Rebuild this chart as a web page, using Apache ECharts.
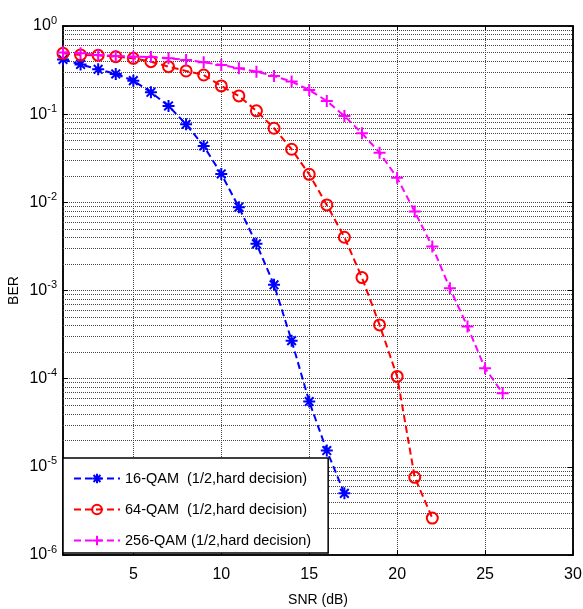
<!DOCTYPE html>
<html>
<head>
<meta charset="utf-8">
<script src="https://cdn.jsdelivr.net/npm/echarts@6/dist/echarts.min.js"></script>
<style>
  html, body { margin: 0; padding: 0; background: #fff; }
  #main { width: 583px; height: 609px; }
</style>
</head>
<body>
<div id="main"></div>
<script>
// values
const snr16 = [1, 2, 3, 4, 5, 6, 7, 8, 9, 10, 11, 12, 13, 14, 15, 16, 17]
const ber16 = [0.417, 0.366, 0.323, 0.286, 0.240, 0.177, 0.124, 0.0768, 0.0436, 0.0210, 0.0088,
    0.00338, 0.00116, 2.7e-4, 5.5e-5, 1.53e-5, 5.0e-6]

const snr64 = [1, 2, 3, 4, 5, 6, 7, 8, 9, 10, 11, 12, 13, 14, 15, 16, 17, 18, 19, 20, 21, 22]
const ber64 = [0.49, 0.47, 0.465, 0.449, 0.430, 0.394, 0.346, 0.309, 0.278, 0.209, 0.161,
    0.109, 0.0692, 0.040, 0.0208, 0.00935, 0.00402, 0.0014, 4.07e-4, 1.06e-4, 7.6e-6, 2.62e-6]

const snr256 = [1, 2, 3, 4, 5, 6, 7, 8, 9, 10, 11, 12, 13, 14, 15, 16, 17, 18, 19, 20, 21, 22, 23, 24, 25, 26]
const ber256 = [0.50, 0.49, 0.47, 0.457, 0.449, 0.445, 0.430, 0.412, 0.388, 0.361, 0.332,
    0.303, 0.271, 0.234, 0.188, 0.141, 0.0954, 0.0607, 0.0366, 0.019, 0.00785,
    0.00315, 0.00106, 3.9e-4, 1.31e-4, 6.85e-5]

const xTicks = [5, 10, 15, 20, 25, 30]
const yTicks = [1e-6, 1e-5, 1e-4, 1e-3, 1e-2, 1e-1, 1]
const seriesNames = ['16-QAM  (1/2,hard decision)', '64-QAM  (1/2,hard decision)', '256-QAM (1/2,hard decision)']

// minor log grid lines 2..9 x 10^d
const minorGrid = []
for (let d = -6; d < 0; d++) {
    for (let k = 2; k <= 9; k++) minorGrid.push({ yAxis: k * Math.pow(10, d) })
}

const FONT = '"Liberation Sans", Arial, sans-serif'
const GRID_LINE = { color: '#444', type: 'dotted', width: 1 }
const STAR = 'path://M5 0L5 10M0 5L10 5M1.4 1.4L8.6 8.6M8.6 1.4L1.4 8.6'
const PLUS = 'path://M5 0L5 10M0 5L10 5'

function pairs(xs, ys) {
    return xs.map((x, i) => [x, ys[i]])
}

const chart = echarts.init(document.getElementById('main'))

const tickOnly = { inside: true, length: 5, lineStyle: { color: '#000' } }

const option = {
    animation: false,
    backgroundColor: '#fff',
    textStyle: { fontFamily: FONT },
    grid: {
        left: 63, top: 26, right: 10, bottom: 54,
        outerBoundsMode: 'none',
        containLabel: false,
        show: true, borderColor: '#000', borderWidth: 1.5
    },
    legend: {
        orient: 'vertical',
        left: 63, top: 458,
        padding: [13, 17, 5, 10],
        itemGap: 16,
        itemWidth: 46,
        itemHeight: 12,
        backgroundColor: '#fff',
        borderColor: '#000',
        borderWidth: 1.5,
        borderRadius: 0,
        textStyle: { fontSize: 14.5, color: '#000', fontFamily: FONT },
        data: seriesNames
    },
    xAxis: [{
        type: 'value',
        min: 1, max: 30,
        name: 'SNR (dB)',
        nameLocation: 'middle',
        nameGap: 38,
        nameMoveOverlap: false,
        nameTextStyle: { fontSize: 14, color: '#000', fontFamily: FONT },
        axisLine: { lineStyle: { color: '#000', width: 1.5 } },
        axisTick: Object.assign({ customValues: xTicks }, tickOnly),
        axisLabel: { customValues: xTicks, fontSize: 16, color: '#000', margin: 12, fontFamily: FONT },
        splitLine: { show: true, lineStyle: GRID_LINE }
    }, {
        type: 'value',
        position: 'top',
        min: 1, max: 30,
        axisLine: { lineStyle: { color: '#000', width: 1.5 } },
        axisTick: Object.assign({ customValues: xTicks }, tickOnly),
        axisLabel: { show: false },
        splitLine: { show: false }
    }],
    yAxis: [{
        type: 'log',
        logBase: 10,
        min: 1e-6, max: 1,
        name: 'BER',
        nameLocation: 'middle',
        nameGap: 42,
        nameMoveOverlap: false,
        nameTextStyle: { fontSize: 14, color: '#000', fontFamily: FONT },
        axisLine: { lineStyle: { color: '#000', width: 1.5 } },
        axisTick: Object.assign({ customValues: yTicks }, tickOnly),
        axisLabel: {
            customValues: yTicks,
            margin: 6,
            formatter: function (v) {
                return '{b|10}{s|' + Math.round(Math.log10(v)) + '}'
            },
            rich: {
                b: { fontSize: 16, color: '#000', fontFamily: FONT },
                s: { fontSize: 11, color: '#000', fontFamily: FONT, padding: [0, 0, 11, 0] }
            }
        },
        splitLine: { show: true, lineStyle: GRID_LINE }
    }, {
        type: 'log',
        logBase: 10,
        position: 'right',
        min: 1e-6, max: 1,
        axisLine: { lineStyle: { color: '#000', width: 1.5 } },
        axisTick: Object.assign({ customValues: yTicks }, tickOnly),
        axisLabel: { show: false },
        splitLine: { show: false }
    }],
    series: [
        {
            name: seriesNames[0],
            type: 'line',
            data: pairs(snr16, ber16),
            symbol: STAR,
            symbolSize: 12,
            itemStyle: { color: '#0000ff', borderColor: '#0000ff', borderWidth: 2 },
            lineStyle: { color: '#0000ff', width: 2, type: [7, 4] },
            z: 3,
            markLine: {
                silent: true,
                symbol: 'none',
                precision: 12,
                z: 1,
                label: { show: false },
                lineStyle: GRID_LINE,
                emphasis: { disabled: true },
                data: minorGrid
            }
        },
        {
            name: seriesNames[1],
            type: 'line',
            data: pairs(snr64, ber64),
            symbol: 'circle',
            symbolSize: 11,
            itemStyle: { color: 'rgba(0,0,0,0)', borderColor: '#ff0000', borderWidth: 2 },
            lineStyle: { color: '#ff0000', width: 2, type: [7, 4] },
            z: 3
        },
        {
            name: seriesNames[2],
            type: 'line',
            data: pairs(snr256, ber256),
            symbol: PLUS,
            symbolSize: 12,
            itemStyle: { color: '#ff00ff', borderColor: '#ff00ff', borderWidth: 2 },
            lineStyle: { color: '#ff00ff', width: 2, type: [7, 4] },
            z: 3
        }
    ]
}

chart.setOption(option)
</script>
</body>
</html>
